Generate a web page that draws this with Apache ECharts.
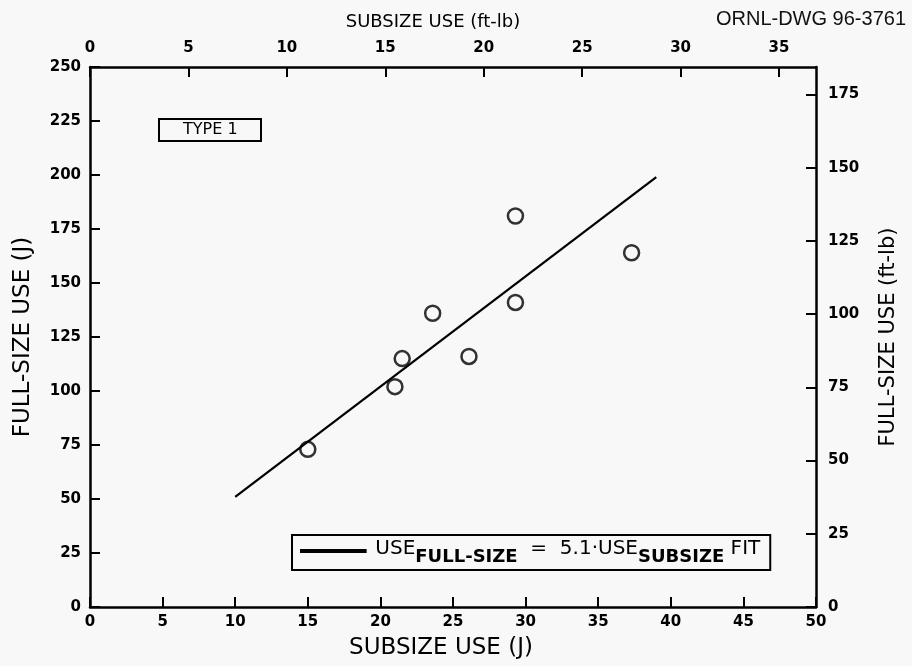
<!DOCTYPE html>
<html><head><meta charset="utf-8">
<script src="https://cdn.jsdelivr.net/npm/echarts@6/dist/echarts.min.js"></script>
<style>html,body{margin:0;padding:0;background:#f8f8f8}#c{width:912px;height:666px}</style>
</head><body><div id="c"></div>
<script>
// Data (J)
const subsizeUse = [15.0, 21.0, 21.5, 23.6, 26.1, 29.3, 29.3, 37.3];
const fullsizeUse = [73, 102, 115, 136, 116, 181, 141, 164];
const fitX = [10, 39];
const fitY = [51, 199];
const J_PER_FTLB = 1.35582;
const xMaxJ = 50, yMaxJ = 250;

const font = 'DejaVu Sans';
const chart = echarts.init(document.getElementById('c'));
const axisLine = {show: true, onZero: false, lineStyle: {color: '#000', width: 2.5}};
const tick = {show: true, inside: true, length: 10, lineStyle: {color: '#000', width: 2}};
const lab = {color: '#000', fontFamily: font, fontWeight: 'bold', fontSize: 15};
const nameStyle = {color: '#000', fontFamily: font, fontSize: 23};

chart.setOption({
  backgroundColor: '#f8f8f8',
  animation: false,
  title: [
    {text: 'ORNL-DWG 96-3761', right: 1, top: 4,
     textStyle: {fontFamily: 'Liberation Sans', fontWeight: 'normal', fontSize: 20, color: '#111'}},
    {text: 'TYPE 1', left: 159, top: 119, padding: [3, 24, 3, 24],
     borderColor: '#000', borderWidth: 2,
     textStyle: {fontFamily: font, fontWeight: 'normal', fontSize: 16, color: '#000'}}
  ],
  grid: {left: 90, right: 96, top: 67, bottom: 59, containLabel: false},
  legend: {
    left: 292, top: 535, orient: 'horizontal',
    data: [{name: 'fit', icon: 'path://M0,0L1,0L1,0.06L0,0.06Z'}],
    itemWidth: 74, itemHeight: 4, itemGap: 8,
    borderColor: '#000', borderWidth: 2, padding: [4, 10, 4, 8],
    formatter: () => '{a|USE}{s|FULL-SIZE}{a|  =  5.1·USE}{s|SUBSIZE}{a| FIT}',
    textStyle: {
      color: '#000',
      rich: {
        a: {fontFamily: font, fontSize: 20, color: '#000', verticalAlign: 'bottom', padding: [0, 0, 4, 0]},
        s: {fontFamily: font, fontSize: 18, fontWeight: 'bold', color: '#000', verticalAlign: 'bottom', padding: [0, 0, -3, 0]}
      }
    },
    itemStyle: {color: '#000'}
  },
  xAxis: [
    {type: 'value', position: 'bottom', min: 0, max: xMaxJ, interval: 5,
     name: 'SUBSIZE USE (J)', nameLocation: 'middle', nameGap: 30,
     nameTextStyle: {...nameStyle, padding: [0, 24, 0, 0]},
     axisLine, axisTick: tick, axisLabel: {...lab, margin: 8}, splitLine: {show: false}},
    {type: 'value', position: 'top', min: 0, max: xMaxJ / J_PER_FTLB, interval: 5,
     name: 'SUBSIZE USE (ft-lb)', nameLocation: 'middle', nameGap: 36,
     nameTextStyle: {...nameStyle, fontSize: 18, padding: [0, 40, 0, 0]},
     axisLine, axisTick: tick, axisLabel: {...lab, margin: 11, showMaxLabel: false}, splitLine: {show: false}},
  ],
  yAxis: [
    {type: 'value', position: 'left', min: 0, max: yMaxJ, interval: 25,
     name: 'FULL-SIZE USE (J)', nameLocation: 'middle', nameGap: 55, nameTextStyle: nameStyle,
     axisLine, axisTick: tick, axisLabel: {...lab, margin: 9}, splitLine: {show: false}},
    {type: 'value', position: 'right', min: 0, max: yMaxJ / J_PER_FTLB, interval: 25,
     name: 'FULL-SIZE USE (ft-lb)', nameLocation: 'middle', nameGap: 62, nameRotate: 90,
     nameTextStyle: {...nameStyle, fontSize: 21},
     axisLine, axisTick: tick, axisLabel: {...lab, margin: 12, showMaxLabel: false}, splitLine: {show: false}}
  ],
  series: [
    {name: 'data', type: 'scatter', xAxisIndex: 0, yAxisIndex: 0,
     data: subsizeUse.map((x, i) => [x, fullsizeUse[i]]),
     symbol: 'circle', symbolSize: 15,
     itemStyle: {color: 'rgba(0,0,0,0)', borderColor: '#000', borderWidth: 2.5}},
    {name: 'fit', type: 'line', xAxisIndex: 0, yAxisIndex: 0,
     data: fitX.map((x, i) => [x, fitY[i]]), showSymbol: false, symbol: 'none',
     lineStyle: {color: '#000', width: 2.2}, itemStyle: {color: '#000'}}
  ]
});
</script></body></html>
